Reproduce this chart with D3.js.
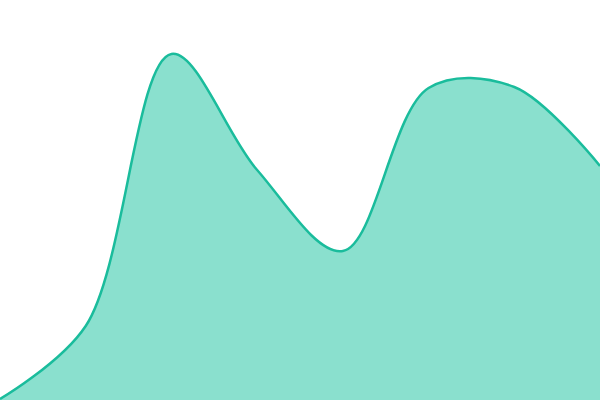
<!DOCTYPE html>
<html>
<head>
<meta charset="utf-8">
<script src="https://cdn.jsdelivr.net/npm/d3@7"></script>
<style>
  html, body { margin: 0; padding: 0; background: #fff; }
  svg { display: block; }
</style>
</head>
<body>
<svg id="chart" width="600" height="400"></svg>
<script>
const categories = [0, 1, 2, 3, 4, 5, 6, 7];
const values = [0.25, 18.5, 86.5, 57.5, 37.25, 78, 78.25, 58.5];

const width = 600, height = 400;
const svg = d3.select("#chart");

const data = categories.map((c, i) => ({ c, v: values[i] }));

const x = d3.scaleLinear().domain([0, categories.length - 1]).range([0, width]);
const y = d3.scaleLinear().domain([0, 100]).range([height, 0]);

const curve = d3.curveCatmullRom.alpha(0.5);

const area = d3.area()
  .x(d => x(d.c))
  .y0(y(0))
  .y1(d => y(d.v))
  .curve(curve);

const line = d3.line()
  .x(d => x(d.c))
  .y(d => y(d.v))
  .curve(curve);

svg.append("path")
  .datum(data)
  .attr("d", area)
  .attr("fill", "#8ae0ce");

svg.append("path")
  .datum(data)
  .attr("d", line)
  .attr("fill", "none")
  .attr("stroke", "#1abc9c")
  .attr("stroke-width", 2.5);
</script>
</body>
</html>
